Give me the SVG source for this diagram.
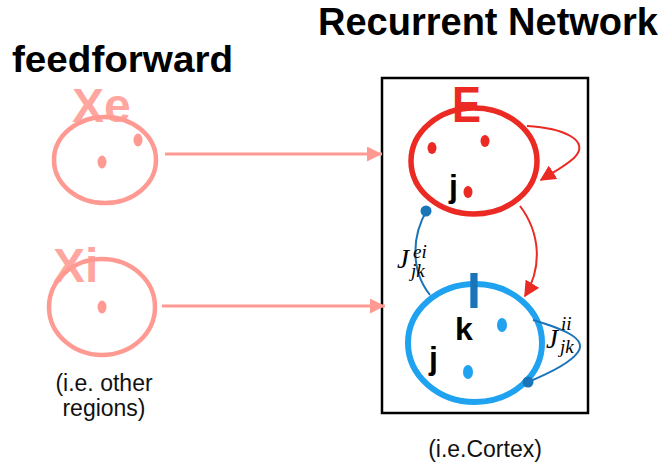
<svg xmlns="http://www.w3.org/2000/svg" width="665" height="466" viewBox="0 0 665 466">
  <style>
    .title { font-family: "Liberation Sans", Arial, sans-serif; font-weight: bold; fill: #000; }
    .note { font-family: "Liberation Sans", Arial, sans-serif; font-size: 23px; fill: #111; }
    .lbl { font-family: "Liberation Sans", Arial, sans-serif; font-weight: bold; }
    .idx { font-family: "Liberation Sans", Arial, sans-serif; font-weight: bold; font-size: 32px; fill: #000; }
    .coup { font-family: "Liberation Serif", "Times New Roman", serif; font-style: italic; fill: #000; font-size: 27px; }
    .scr { font-size: 19px; }
    .ext { fill: none; stroke: #FF9A93; stroke-width: 4.5; }
    .extdot { fill: #FF9A93; }
    .edot { fill: #EC2A24; }
    .idot { fill: #1FA2F0; }
    .syn { fill: #1A74B8; }
  </style>
  <defs>
    <marker id="pinkHead" viewBox="0 0 10 10" refX="10" refY="5" markerWidth="5" markerHeight="5" markerUnits="strokeWidth" orient="auto">
      <path d="M0,0 L10,5 L0,10 Z" fill="#FF9A93"/>
    </marker>
    <marker id="redHead" viewBox="0 0 10 10" refX="9" refY="5" markerWidth="8" markerHeight="8" markerUnits="strokeWidth" orient="auto">
      <path d="M0,0 L10,5 L0,10 Z" fill="#EC2A24"/>
    </marker>
  </defs>

  <!-- headings -->
  <text class="title" x="318" y="35" font-size="38" textLength="340" lengthAdjust="spacingAndGlyphs">Recurrent Network</text>
  <text class="title" x="12" y="72" font-size="37" textLength="221" lengthAdjust="spacingAndGlyphs">feedforward</text>

  <!-- cortex frame -->
  <rect id="cortex" x="382" y="78" width="206" height="335" fill="none" stroke="#000" stroke-width="2.5"/>
  <text class="note" x="485" y="457" font-size="24" text-anchor="middle">(i.e.Cortex)</text>

  <!-- excitatory input population -->
  <g id="Xe">
    <ellipse class="ext" cx="105" cy="160" rx="51" ry="43"/>
    <ellipse class="extdot" cx="138" cy="140" rx="4.5" ry="6.5"/>
    <ellipse class="extdot" cx="102" cy="162" rx="4.5" ry="6.5"/>
    <text class="lbl" x="72" y="122" font-size="48" fill="#FF9A93" fill-opacity="0.9">Xe</text>
  </g>

  <!-- inhibitory input population -->
  <g id="Xi">
    <ellipse class="ext" cx="102" cy="307" rx="53" ry="48"/>
    <ellipse class="extdot" cx="102" cy="307" rx="4.5" ry="6.5"/>
    <text class="lbl" x="53" y="282" font-size="48" fill="#FF9A93" fill-opacity="0.9">Xi</text>
    <text class="note" x="104" y="391" text-anchor="middle">(i.e. other</text>
    <text class="note" x="104" y="416" text-anchor="middle">regions)</text>
  </g>

  <!-- excitatory recurrent population -->
  <g id="E">
    <ellipse cx="474" cy="161" rx="63" ry="53" fill="none" stroke="#EC2A24" stroke-width="5.5"/>
    <ellipse class="edot" cx="432" cy="148" rx="4.5" ry="6"/>
    <ellipse class="edot" cx="485" cy="141" rx="4.5" ry="6"/>
    <ellipse class="edot" cx="468" cy="192" rx="4.5" ry="6"/>
    <text class="lbl" x="452" y="122" font-size="50" fill="#EC2A24" textLength="29" lengthAdjust="spacingAndGlyphs">E</text>
    <text class="idx" x="449" y="197">j</text>
  </g>

  <!-- inhibitory recurrent population -->
  <g id="I">
    <ellipse cx="475" cy="343" rx="67" ry="59" fill="none" stroke="#1FA2F0" stroke-width="6"/>
    <ellipse class="idot" cx="502" cy="325" rx="5" ry="7"/>
    <ellipse class="idot" cx="468" cy="372" rx="5" ry="7"/>
    <text class="lbl" x="474" y="308" font-size="50" fill="#1A74B8" text-anchor="middle">I</text>
    <text class="idx" x="455" y="340" font-size="36">k</text>
    <text class="idx" x="429" y="369">j</text>
  </g>

  <!-- connectors -->
  <g id="connectors" fill="none">
    <line x1="165" y1="154" x2="382" y2="154" stroke="#FF9A93" stroke-width="3" marker-end="url(#pinkHead)"/>
    <line x1="162" y1="306" x2="385" y2="306" stroke="#FF9A93" stroke-width="3" marker-end="url(#pinkHead)"/>
    <!-- E to E -->
    <path d="M527,126 C562,128 592,140 574,158 C564,167 552,173 541,180" stroke="#EC2A24" stroke-width="2" marker-end="url(#redHead)"/>
    <!-- E to I -->
    <path d="M520,206 C541,234 542,268 525,296" stroke="#EC2A24" stroke-width="2" marker-end="url(#redHead)"/>
    <!-- I to E -->
    <path d="M427,210 C412,235 410,270 430,295" stroke="#1A74B8" stroke-width="2"/>
    <circle class="syn" cx="426" cy="211" r="5.5"/>
    <!-- I to I -->
    <path d="M533,320 C560,328 588,338 578,352 C570,364 545,375 528,382" stroke="#1A74B8" stroke-width="2"/>
    <circle class="syn" cx="528" cy="382" r="5.5"/>
  </g>

  <!-- coupling labels -->
  <text class="coup" x="397" y="268">J<tspan class="scr" x="413" y="258">ei</tspan><tspan class="scr" x="411" y="277">jk</tspan></text>
  <text class="coup" x="546" y="348">J<tspan class="scr" x="561" y="330">ii</tspan><tspan class="scr" x="560" y="353">jk</tspan></text>
</svg>
